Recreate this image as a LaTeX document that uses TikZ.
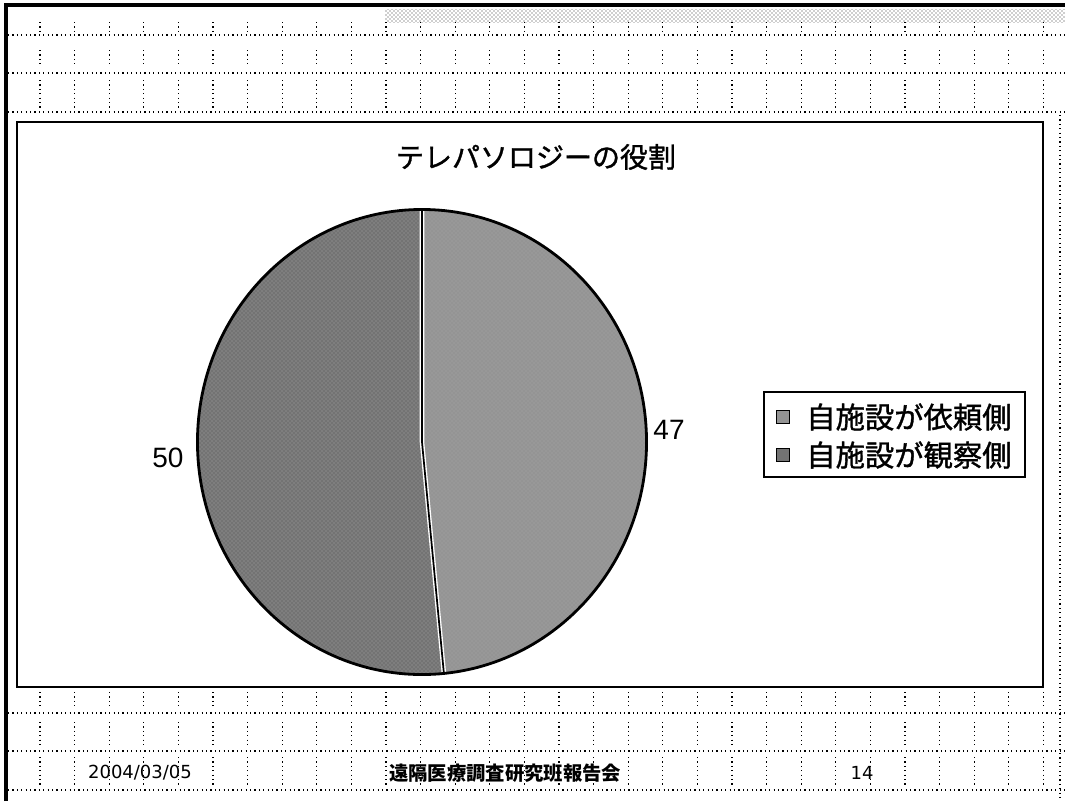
\documentclass[tikz,border=0pt]{standalone}
\usepackage{fontspec}
\setmainfont{Liberation Sans}
\newfontfamily\jp{Noto Sans CJK JP}
\newfontfamily\jpb[FakeBold=1.2]{Noto Sans CJK JP}
\newfontfamily\dv{DejaVu Sans}
\usetikzlibrary{patterns}
\begin{document}
\begin{tikzpicture}[x=0.75pt,y=-0.75pt,
  bgdot/.style={black, line width=0.9pt, dash pattern=on 0.9pt off 2.4pt},
  frameline/.style={black, line width=1.4pt},
  marker/.style={draw=black, line width=0.9pt, minimum size=10pt, inner sep=0pt},
  legtext/.style={anchor=west, inner sep=0pt, font=\jpb\fontsize{22}{26}\selectfont},
  numlabel/.style={inner sep=0pt, font=\fontsize{21}{24}\selectfont},
  foot/.style={inner sep=0pt}]
\useasboundingbox (0,0) rectangle (1065,801);
\fill[white] (0,0) rectangle (1065,801);
% hatched band at top
\fill[pattern=crosshatch dots, pattern color=black!80] (385,9) rectangle (1065,22);
% background dotted grid, top band
\foreach \yy in {35,73,112} {\draw[bgdot] (8,\yy) -- (1065,\yy);}
\foreach \k in {0,...,29} {
  \pgfmathsetmacro{\xx}{40+34.6*\k}
  \draw[bgdot] (\xx,22) -- (\xx,33);
  \draw[bgdot] (\xx,50) -- (\xx,66);
  \draw[bgdot] (\xx,80) -- (\xx,108);
}
% bottom band
\foreach \yy in {713,751,790} {\draw[bgdot] (8,\yy) -- (1065,\yy);}
\foreach \k in {0,...,29} {
  \pgfmathsetmacro{\xx}{40+34.6*\k}
  \draw[bgdot] (\xx,692) -- (\xx,708);
  \draw[bgdot] (\xx,722) -- (\xx,745);
  \draw[bgdot] (\xx,757) -- (\xx,785);
}
\draw[bgdot] (1060,115) -- (1060,801);
% slide border
\draw[black, line width=2.4pt] (6,801) -- (6,5) -- (1065,5);
% chart frame
\fill[white] (17,122) rectangle (1043,687);
\draw[frameline] (17,122) rectangle (1043,687);
% title
\node[inner sep=0pt, font=\jpb\fontsize{21}{25}\selectfont] (title) at (536,157) {テレパソロジーの役割};
% pie
\fill[black!42] (422,209.5) arc[start angle=90, end angle=-84.4, x radius=168.4pt, y radius=174.4pt] -- (422,442) -- cycle;
\fill[black!55] (443.9,673.4) arc[start angle=-84.4, end angle=-270, x radius=168.4pt, y radius=174.4pt] -- (422,442) -- cycle;
\fill[pattern=crosshatch dots, pattern color=black!35] (422,442) ellipse[x radius=168.4pt, y radius=174.4pt];
\draw[white, line width=3.4pt] (422,209.5) -- (422,442) -- (443.9,673.4);
\draw[black, line width=1.3pt] (422,209.5) -- (422,442) -- (443.9,673.4);
\draw[black, line width=2.1pt] (422,442) ellipse[x radius=168.4pt, y radius=174.4pt];
% labels
\node[numlabel] (l50) at (168,458) {50};
\node[numlabel] (l47) at (669,430) {47};
% legend
\node[draw=black, line width=1pt, minimum width=195.75pt, minimum height=63.75pt, inner sep=0pt] (legend) at (894.5,434.5) {};
\node[marker, fill=black!42] (m1) at (783,417) {};
\node[marker, fill=black!55] (m2) at (783,455) {};
\node[legtext] (t1) at (806,417) {自施設が依頼側};
\node[legtext] (t2) at (806,455) {自施設が観察側};
% footer
\node[foot, font=\dv\fontsize{13.5}{15}\selectfont] (date) at (140,773) {2004/03/05};
\node[foot, font=\jp\bfseries\fontsize{14.5}{17}\selectfont] (meeting) at (505,773) {遠隔医療調査研究班報告会};
\node[foot, font=\dv\fontsize{13.5}{15}\selectfont] (page) at (862,773) {14};
\end{tikzpicture}
\end{document}
